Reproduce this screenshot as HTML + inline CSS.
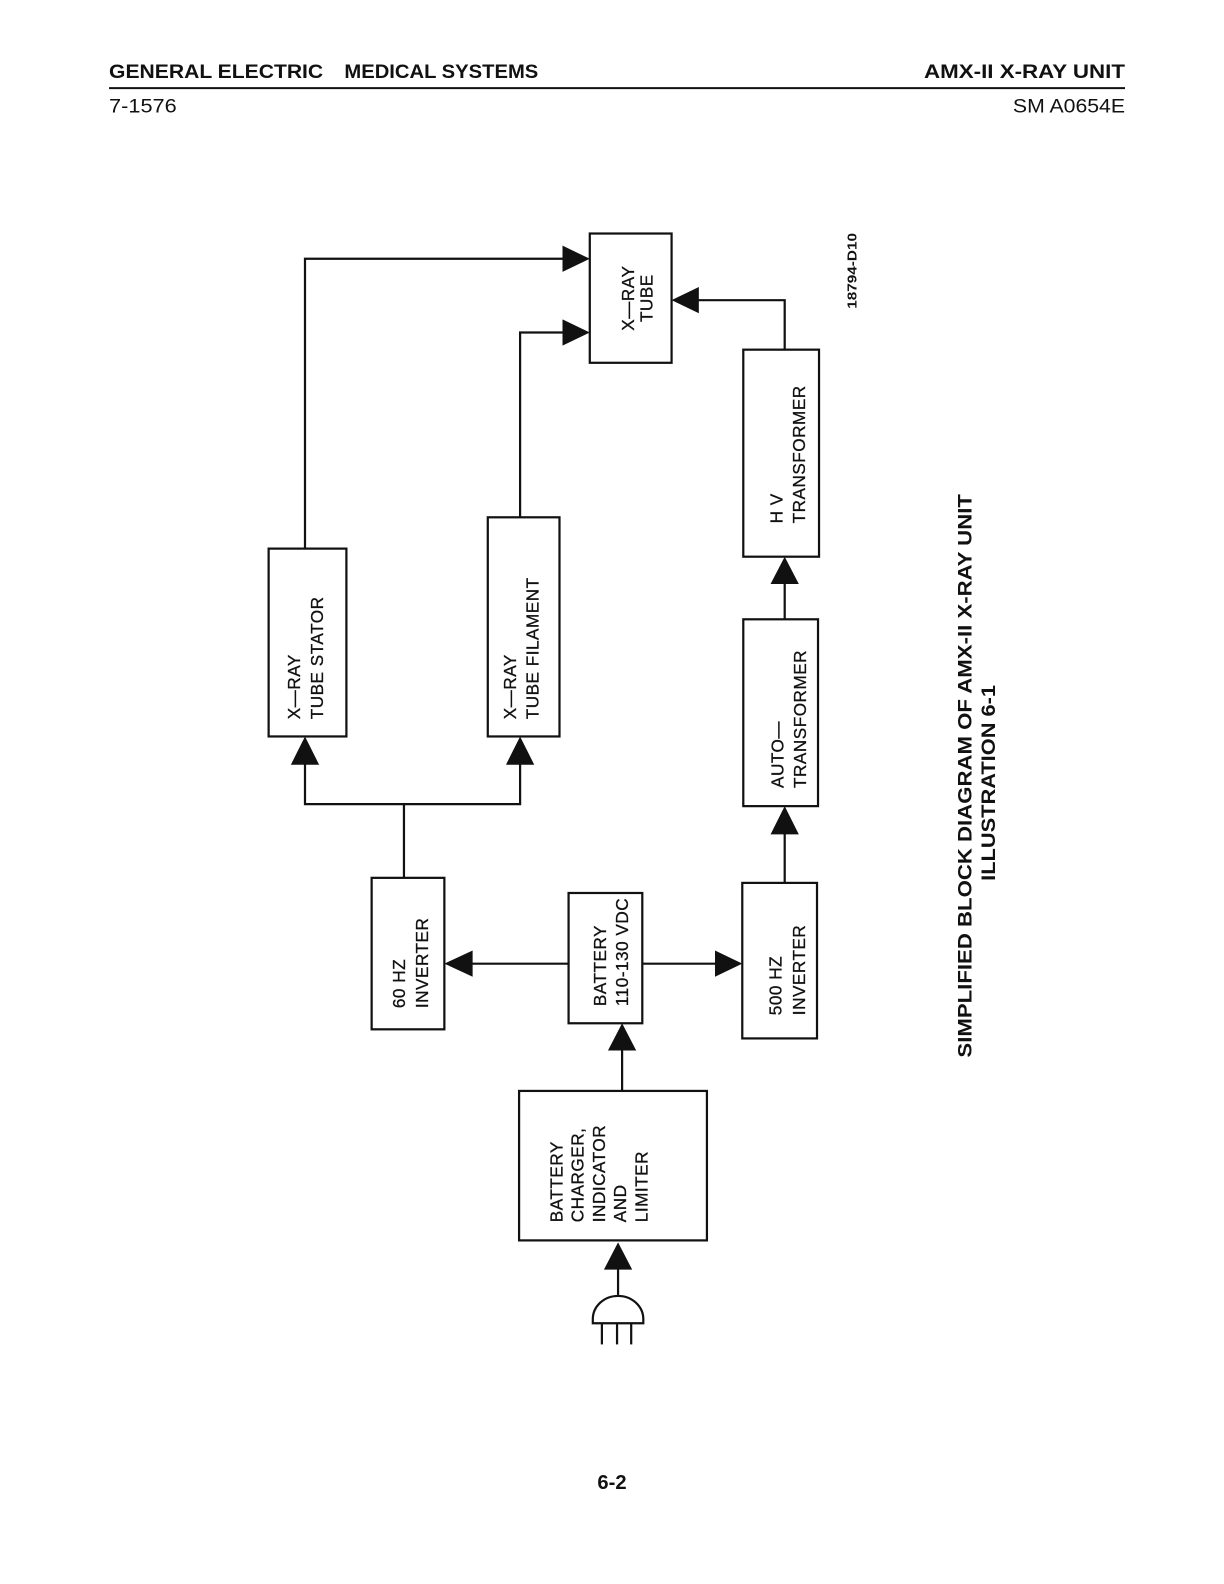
<!DOCTYPE html>
<html><head><meta charset="utf-8"><style>
html,body{margin:0;padding:0;background:#fff;}
svg{display:block;}
text{font-family:"Liberation Sans",sans-serif;fill:#111;}
.b{font-size:17px;letter-spacing:0.5px;}
</style></head><body>
<svg width="1224" height="1584" viewBox="0 0 1212 1568" xmlns="http://www.w3.org/2000/svg">
<rect width="1212" height="1568" fill="#fff"/>
<!-- header -->
<text x="108" y="77" font-size="19" font-weight="bold" textLength="212" lengthAdjust="spacingAndGlyphs">GENERAL ELECTRIC</text>
<text x="341" y="77" font-size="19" font-weight="bold" textLength="192" lengthAdjust="spacingAndGlyphs">MEDICAL SYSTEMS</text>
<text x="1114" y="77" font-size="19" font-weight="bold" text-anchor="end" textLength="199" lengthAdjust="spacingAndGlyphs">AMX-II X-RAY UNIT</text>
<line x1="108" y1="87" x2="1114" y2="87" stroke="#111" stroke-width="2"/>
<text x="108" y="111" font-size="19" textLength="67" lengthAdjust="spacingAndGlyphs">7-1576</text>
<text x="1114" y="111" font-size="19" text-anchor="end" textLength="111" lengthAdjust="spacingAndGlyphs">SM A0654E</text>

<g fill="none" stroke="#111" stroke-width="2.2">
<rect x="584" y="231" width="81" height="128"/>
<rect x="266" y="543" width="77" height="186"/>
<rect x="483" y="512" width="71" height="217"/>
<rect x="736" y="346" width="75" height="205"/>
<rect x="736" y="613" width="74" height="185"/>
<rect x="368" y="869" width="72" height="150"/>
<rect x="563" y="884" width="73" height="129"/>
<rect x="735" y="874" width="74" height="154"/>
<rect x="514" y="1080" width="186" height="148"/>
<!-- connectors -->
<polyline points="302,543 302,256 560,256"/>
<polyline points="515,512 515,329 560,329"/>
<polyline points="777,346 777,297 690,297"/>
<line x1="777" y1="613" x2="777" y2="575"/>
<line x1="777" y1="874" x2="777" y2="822"/>
<polyline points="302,753 302,796 515,796 515,753"/>
<line x1="400" y1="869" x2="400" y2="796"/>
<line x1="563" y1="954" x2="465" y2="954"/>
<line x1="636" y1="954" x2="710" y2="954"/>
<line x1="616" y1="1080" x2="616" y2="1037"/>
<line x1="612" y1="1282" x2="612" y2="1254"/>
<!-- plug -->
<path d="M587,1310 L637,1310 L637,1306 A25,23 0 0 0 587,1306 Z"/>
<line x1="596" y1="1310" x2="596" y2="1331"/>
<line x1="611" y1="1310" x2="611" y2="1331"/>
<line x1="625" y1="1310" x2="625" y2="1331"/>
</g>
<g fill="#111">
<polygon points="584,256 557,243 557,269"/>
<polygon points="584,329 557,316 557,342"/>
<polygon points="665,297 692,284 692,310"/>
<polygon points="777,551 763,578 791,578"/>
<polygon points="777,798 763,826 791,826"/>
<polygon points="302,729 288,757 316,757"/>
<polygon points="515,729 501,757 529,757"/>
<polygon points="440,954 468,941 468,967"/>
<polygon points="735,954 708,941 708,967"/>
<polygon points="616,1013 602,1040 630,1040"/>
<polygon points="612,1230 598,1257 626,1257"/>
</g>

<!-- box labels -->
<g class="b" stroke="#111" stroke-width="0.3">
<text class="b" transform="translate(297,712) rotate(-90)">X—RAY</text>
<text class="b" transform="translate(320,712) rotate(-90)">TUBE STATOR</text>
<text class="b" transform="translate(511,712) rotate(-90)">X—RAY</text>
<text class="b" transform="translate(533,712) rotate(-90)">TUBE FILAMENT</text>
<text class="b" transform="translate(628,295) rotate(-90)" text-anchor="middle">X—RAY</text>
<text class="b" transform="translate(646,295) rotate(-90)" text-anchor="middle">TUBE</text>
<text class="b" transform="translate(775,518) rotate(-90)">H V</text>
<text class="b" transform="translate(797,518) rotate(-90)">TRANSFORMER</text>
<text class="b" transform="translate(776,780) rotate(-90)">AUTO—</text>
<text class="b" transform="translate(798,780) rotate(-90)">TRANSFORMER</text>
<text class="b" transform="translate(401,998) rotate(-90)">60 HZ</text>
<text class="b" transform="translate(424,998) rotate(-90)">INVERTER</text>
<text class="b" transform="translate(600,996) rotate(-90)">BATTERY</text>
<text class="b" transform="translate(622,996) rotate(-90)">110-130 VDC</text>
<text class="b" transform="translate(774,1005) rotate(-90)">500 HZ</text>
<text class="b" transform="translate(797,1005) rotate(-90)">INVERTER</text>
<text class="b" transform="translate(557,1210) rotate(-90)">BATTERY</text>
<text class="b" transform="translate(578,1210) rotate(-90)">CHARGER,</text>
<text class="b" transform="translate(599,1210) rotate(-90)">INDICATOR</text>
<text class="b" transform="translate(620,1210) rotate(-90)">AND</text>
<text class="b" transform="translate(641,1210) rotate(-90)">LIMITER</text>
</g>

<text transform="translate(848,268) rotate(-90)" text-anchor="middle" font-size="13" font-weight="bold" textLength="75" lengthAdjust="spacingAndGlyphs">18794-D10</text>
<text transform="translate(962,768) rotate(-90)" text-anchor="middle" font-size="19" font-weight="bold" textLength="558" lengthAdjust="spacingAndGlyphs">SIMPLIFIED BLOCK DIAGRAM OF AMX-II X-RAY UNIT</text>
<text transform="translate(985,775) rotate(-90)" text-anchor="middle" font-size="19" font-weight="bold" textLength="194" lengthAdjust="spacingAndGlyphs">ILLUSTRATION 6-1</text>
<text x="606" y="1474" text-anchor="middle" font-size="20" font-weight="bold">6-2</text>
</svg>
</body></html>
